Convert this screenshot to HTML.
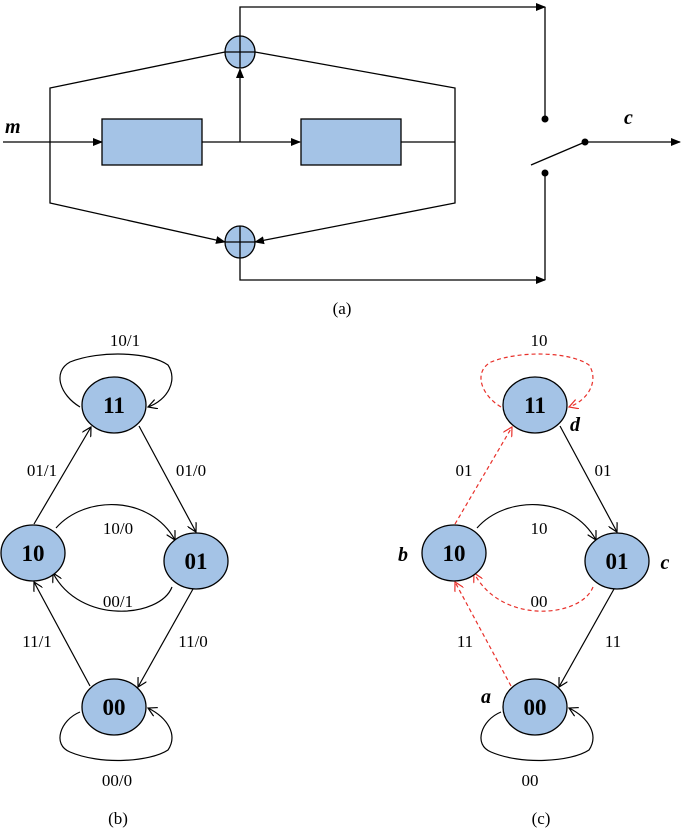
<!DOCTYPE html>
<html><head><meta charset="utf-8"><style>body{margin:0;background:#fff}svg{display:block}</style></head><body>
<svg width="685" height="829" viewBox="0 0 685 829" xmlns="http://www.w3.org/2000/svg" font-family="Liberation Serif, serif">
<defs>
<marker id="fa" markerWidth="10" markerHeight="8" refX="9" refY="4" orient="auto" markerUnits="userSpaceOnUse"><path d="M0,0 L10,4 L0,8 z" fill="#000"/></marker>
<marker id="oa" markerWidth="10" markerHeight="10" refX="9" refY="5" orient="auto" markerUnits="userSpaceOnUse"><path d="M0,0 L9,5 L0,10" fill="none" stroke="#000" stroke-width="1.2"/></marker>
<marker id="ra" markerWidth="10" markerHeight="10" refX="9" refY="5" orient="auto" markerUnits="userSpaceOnUse"><path d="M0,0 L9,5 L0,10" fill="none" stroke="#e8302a" stroke-width="1.2"/></marker>
</defs>
<g stroke="#000" stroke-width="1.3" fill="none">
<polyline points="240,37 240,7 545,7" marker-end="url(#fa)"/>
<line x1="3" y1="142" x2="102" y2="142" marker-end="url(#fa)"/>
<line x1="202" y1="142" x2="300" y2="142" marker-end="url(#fa)"/>
<line x1="401" y1="142" x2="455" y2="142"/>
<line x1="240" y1="142" x2="240" y2="69" marker-end="url(#fa)"/>
<polyline points="225,52 50,88 50,203 225,242" marker-start="url(#fa)" marker-end="url(#fa)"/>
<polyline points="255,52 455,88 455,203 255,242" marker-start="url(#fa)" marker-end="url(#fa)"/>
<polyline points="240,258 240,280 545,280" marker-end="url(#fa)"/>
<line x1="545" y1="7" x2="545" y2="119"/>
<line x1="545" y1="173" x2="545" y2="280"/>
<line x1="531" y1="165" x2="585" y2="142"/>
<line x1="585" y1="142" x2="680" y2="142" marker-end="url(#fa)"/>
</g>
<rect x="102" y="119" width="100" height="46" fill="#a4c3e6" stroke="#000" stroke-width="1.3"/>
<rect x="301" y="119" width="100" height="46" fill="#a4c3e6" stroke="#000" stroke-width="1.3"/>
<g fill="#a4c3e6" stroke="#000" stroke-width="1.3">
<ellipse cx="240" cy="52" rx="15" ry="16"/><ellipse cx="240" cy="242" rx="15" ry="16"/>
</g>
<g stroke="#000" stroke-width="1.3"><line x1="225" y1="52" x2="255" y2="52"/><line x1="240" y1="36" x2="240" y2="68"/><line x1="225" y1="242" x2="255" y2="242"/><line x1="240" y1="226" x2="240" y2="258"/></g>
<g fill="#000"><circle cx="545" cy="119" r="3.5"/><circle cx="545" cy="173" r="3.5"/><circle cx="585" cy="142" r="3.5"/></g>
<text x="5" y="133" font-size="20" font-weight="bold" font-style="italic">m</text>
<text x="624" y="124" font-size="20" font-weight="bold" font-style="italic">c</text>
<text x="342" y="314" font-size="17" text-anchor="middle">(a)</text>

<!-- (b) -->
<g stroke="#000" stroke-width="1.2" fill="none">
<path d="M80,407 C60,395 52,372 70,362 C100,350 150,352 168,365 C178,380 168,400 148,407" marker-end="url(#oa)"/>
<path d="M80,712 C60,720 52,745 70,752 C100,765 150,762 168,750 C178,735 168,718 148,708" marker-end="url(#oa)"/>
<path d="M56,528 C85,495 150,495 175,540" marker-end="url(#oa)"/>
<path d="M172,587 C160,618 80,625 53,573" marker-end="url(#oa)"/>
<line x1="34" y1="524" x2="91" y2="427" marker-end="url(#oa)"/>
<line x1="139" y1="426" x2="196" y2="532" marker-end="url(#oa)"/>
<line x1="193" y1="589" x2="138" y2="687" marker-end="url(#oa)"/>
<line x1="90" y1="686" x2="34" y2="582" marker-end="url(#oa)"/>
</g>
<!-- (c) -->
<g stroke="#000" stroke-width="1.2" fill="none">
<path d="M501,712 C481,720 473,745 491,752 C521,765 571,762 589,750 C599,735 589,718 569,708" marker-end="url(#oa)"/>
<path d="M477,528 C506,495 571,495 596,540" marker-end="url(#oa)"/>
<line x1="560" y1="426" x2="617" y2="532" marker-end="url(#oa)"/>
<line x1="614" y1="589" x2="559" y2="687" marker-end="url(#oa)"/>
</g>
<g stroke="#e8302a" stroke-width="1.2" fill="none" stroke-dasharray="4,3">
<path d="M501,407 C481,395 473,372 491,362 C521,350 571,352 589,365 C599,380 589,400 569,407" marker-end="url(#ra)"/>
<path d="M593,587 C581,618 501,625 474,573" marker-end="url(#ra)"/>
<line x1="455" y1="524" x2="512" y2="427" marker-end="url(#ra)"/>
<line x1="511" y1="686" x2="455" y2="582" marker-end="url(#ra)"/>
</g>
<g fill="#a4c3e6" stroke="#000" stroke-width="1.3">
<ellipse cx="114" cy="405" rx="32" ry="28"/><ellipse cx="33" cy="553" rx="32" ry="28"/><ellipse cx="196" cy="561" rx="32" ry="28"/><ellipse cx="114" cy="707" rx="32" ry="28"/>
<ellipse cx="535" cy="405" rx="32" ry="28"/><ellipse cx="454" cy="553" rx="32" ry="28"/><ellipse cx="617" cy="561" rx="32" ry="28"/><ellipse cx="535" cy="707" rx="32" ry="28"/>
</g>
<g font-size="23" font-weight="bold" text-anchor="middle">
<text x="114" y="413">11</text><text x="33" y="561">10</text><text x="196" y="569">01</text><text x="114" y="715">00</text>
<text x="535" y="413">11</text><text x="454" y="561">10</text><text x="617" y="569">01</text><text x="535" y="715">00</text>
</g>
<g font-size="17" text-anchor="middle">
<text x="125" y="346">10/1</text><text x="42" y="476">01/1</text><text x="191" y="476">01/0</text>
<text x="118" y="534">10/0</text><text x="118" y="607">00/1</text><text x="37" y="647">11/1</text>
<text x="193" y="647">11/0</text><text x="117" y="786">00/0</text><text x="118" y="824">(b)</text>
<text x="539" y="346">10</text><text x="464" y="476">01</text><text x="603" y="476">01</text>
<text x="539" y="534">10</text><text x="539" y="607">00</text><text x="465" y="647">11</text>
<text x="613" y="647">11</text><text x="530" y="786">00</text><text x="541" y="824">(c)</text>
</g>
<g font-size="20" font-weight="bold" font-style="italic" text-anchor="middle">
<text x="575" y="431">d</text><text x="403" y="561">b</text><text x="665" y="569">c</text><text x="486" y="703">a</text>
</g>
</svg>
</body></html>
